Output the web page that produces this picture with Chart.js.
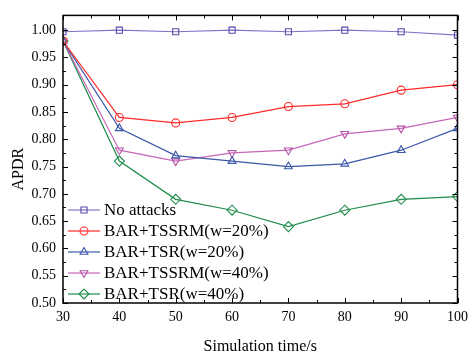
<!DOCTYPE html>
<html>
<head>
<meta charset="utf-8">
<script src="https://cdn.jsdelivr.net/npm/chart.js@4/dist/chart.umd.min.js"></script>
<style>
html, body { margin: 0; padding: 0; background: #fff; }
</style>
</head>
<body>
<canvas id="apdrChart" width="474" height="355"></canvas>
<script>
// data
const times = [30, 40, 50, 60, 70, 80, 90, 100];
const noAttacks = [0.997, 1.000, 0.997, 1.000, 0.997, 1.000, 0.997, 0.991];
const tssrm20 = [0.980, 0.840, 0.830, 0.840, 0.860, 0.865, 0.890, 0.900];
const tsr20 = [0.980, 0.820, 0.770, 0.760, 0.750, 0.755, 0.780, 0.820];
const tssrm40 = [0.980, 0.780, 0.760, 0.775, 0.780, 0.810, 0.820, 0.840];
const tsr40 = [0.980, 0.760, 0.690, 0.670, 0.640, 0.670, 0.690, 0.695];
const seriesNames = ['No attacks', 'BAR+TSSRM(w=20%)', 'BAR+TSR(w=20%)', 'BAR+TSSRM(w=40%)', 'BAR+TSR(w=40%)'];
const xTicks = [30, 40, 50, 60, 70, 80, 90, 100];
const yTicks = [0.50, 0.55, 0.60, 0.65, 0.70, 0.75, 0.80, 0.85, 0.90, 0.95, 1.00];
const yTitle = 'APDR';

const serif = '"Liberation Serif", "Times New Roman", serif';

function pts(vals) {
    return vals.map((v, i) => ({ x: times[i], y: v }));
}

function series(label, vals, color, pointColor, style, radius, rotation) {
    return {
        label: label,
        data: pts(vals),
        borderColor: color,
        backgroundColor: 'rgba(0,0,0,0)',
        borderWidth: 1.2,
        pointStyle: style,
        pointRadius: radius,
        pointRotation: rotation || 0,
        pointBorderColor: pointColor,
        pointBackgroundColor: 'rgba(0,0,0,0)',
        pointBorderWidth: 1.1,
        tension: 0
    };
}

const datasets = [
    series(seriesNames[0], noAttacks, '#8474c8', '#5a48aa', 'rect', 4.3),
    series(seriesNames[1], tssrm20, '#ff2b2b', '#ff2b2b', 'circle', 4),
    series(seriesNames[2], tsr20, '#3b58a8', '#3b58a8', 'triangle', 4.5),
    series(seriesNames[3], tssrm40, '#c766b9', '#b455a8', 'triangle', 4.5, 180),
    series(seriesNames[4], tsr40, '#1f8c4a', '#1f8c4a', 'rectRot', 5)
];

// inward ticks on all four sides + frame, legend and y title
const frameTicks = {
    id: 'frameTicks',
    afterDatasetsDraw(chart) {
        const { ctx, chartArea: a, scales: { x, y } } = chart;
        ctx.save();
        ctx.strokeStyle = '#000';
        ctx.lineWidth = 1;
        ctx.beginPath();
        for (let i = 0; i < xTicks.length; i++) {
            const vals = [xTicks[i]];
            if (i < xTicks.length - 1) vals.push((xTicks[i] + xTicks[i + 1]) / 2);
            vals.forEach((v, k) => {
                const px = Math.round(x.getPixelForValue(v)) + 0.5;
                const len = k === 0 ? 5 : 3;
                ctx.moveTo(px, a.bottom); ctx.lineTo(px, a.bottom - len);
                ctx.moveTo(px, a.top); ctx.lineTo(px, a.top + len);
            });
        }
        for (let i = 0; i < yTicks.length; i++) {
            const vals = [yTicks[i]];
            if (i < yTicks.length - 1) vals.push((yTicks[i] + yTicks[i + 1]) / 2);
            vals.forEach((v, k) => {
                const py = Math.round(y.getPixelForValue(v)) + 0.5;
                const len = k === 0 ? 5 : 3;
                ctx.moveTo(a.left, py); ctx.lineTo(a.left + len, py);
                ctx.moveTo(a.right, py); ctx.lineTo(a.right - len, py);
            });
        }
        ctx.stroke();
        ctx.lineWidth = 1.5;
        ctx.strokeRect(a.left, a.top, a.right - a.left, a.bottom - a.top);
        ctx.restore();
    },
    afterDraw(chart) {
        const { ctx, chartArea: a } = chart;
        ctx.save();
        // y axis title, sits a little below the middle as in the original
        ctx.font = '16px ' + serif;
        ctx.fillStyle = '#000';
        ctx.textAlign = 'center';
        ctx.textBaseline = 'middle';
        ctx.translate(19, (a.top + a.bottom) / 2 + 10);
        ctx.rotate(-Math.PI / 2);
        ctx.fillText(yTitle, 0, 0);
        ctx.restore();

        // legend: line with marker, then label
        ctx.save();
        ctx.font = '17px ' + serif;
        ctx.textBaseline = 'middle';
        chart.data.datasets.forEach((ds, i) => {
            const cy = a.bottom - 93 + i * 21;
            const x0 = a.left + 5, x1 = a.left + 37;
            ctx.strokeStyle = ds.borderColor;
            ctx.lineWidth = ds.borderWidth;
            ctx.beginPath();
            ctx.moveTo(x0, cy); ctx.lineTo(x1, cy);
            ctx.stroke();
            ctx.strokeStyle = ds.pointBorderColor;
            ctx.fillStyle = 'rgba(0,0,0,0)';
            ctx.lineWidth = ds.pointBorderWidth;
            Chart.helpers.drawPoint(ctx, {
                pointStyle: ds.pointStyle,
                radius: ds.pointRadius,
                rotation: ds.pointRotation,
                borderWidth: ds.pointBorderWidth
            }, (x0 + x1) / 2, cy);
            ctx.fillStyle = '#000';
            ctx.fillText(ds.label, x1 + 4, cy + 1);
        });
        ctx.restore();
    }
};

const ctx = document.getElementById('apdrChart').getContext('2d');
const apdrChart = new Chart(ctx, {
    type: 'line',
    data: { datasets: datasets },
    options: {
        responsive: false,
        animation: false,
        layout: { padding: { top: 7, right: 11, left: 0, bottom: 0 } },
        scales: {
            x: {
                type: 'linear',
                min: 30,
                max: 100,
                afterBuildTicks: s => { s.ticks = xTicks.map(v => ({ value: v })); },
                afterFit: s => { s.height = 52; },
                grid: { display: false, drawTicks: false },
                border: { display: false },
                ticks: {
                    padding: 6,
                    color: '#000',
                    font: { family: serif, size: 14 },
                    maxRotation: 0
                },
                title: {
                    display: true,
                    text: 'Simulation time/s',
                    color: '#000',
                    font: { family: serif, size: 16, lineHeight: 1 },
                    padding: { top: 0, bottom: 0 }
                }
            },
            y: {
                min: 0.5,
                max: 1.027,
                afterBuildTicks: s => { s.ticks = yTicks.map(v => ({ value: v })); },
                afterFit: s => { s.width = 63; },
                grid: { display: false, drawTicks: false },
                border: { display: false },
                ticks: {
                    padding: 7,
                    color: '#000',
                    font: { family: serif, size: 14 },
                    callback: v => v.toFixed(2)
                },
                title: { display: false }
            }
        },
        plugins: {
            legend: { display: false },
            tooltip: { enabled: false }
        }
    },
    plugins: [frameTicks]
});
</script>
</body>
</html>
